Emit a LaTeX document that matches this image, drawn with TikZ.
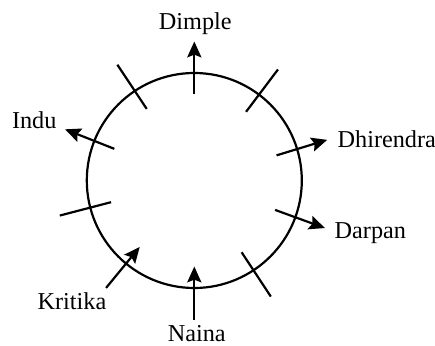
\documentclass[tikz,border=0pt]{standalone}
\usepackage{fontspec}
\setmainfont{Liberation Serif}
\usetikzlibrary{arrows.meta}

\begin{document}
\begin{tikzpicture}[x=0.02cm, y=0.02cm,
    seat/.style={line width=1.25pt},
    pointer/.style={seat, -{Stealth[length=9pt,width=8pt,inset=1.5pt]}},
    person/.style={font=\fontsize{13.8}{16}\selectfont, inner sep=0pt},
  ]
  \useasboundingbox (0,0) rectangle (435,345);
  \coordinate (c) at (194.3,164.5);
  \draw[seat] (c) circle[radius=107.5];
  % inner and outer end of every mark
  \foreach \s/\a in {dimple/90, tr/53, dhirendra/17, darpan/-20, br/-56.6,
      naina/-90, kritika/230.6, lf/194.6, indu/158.4, tl/123.6} {
    \coordinate (\s-in) at ([shift={(\a:86)}]c);
    \coordinate (\s-out) at ([shift={(\a:139)}]c);
  }
  \foreach \s in {tr, br, lf, tl}
    \draw[seat] (\s-in) -- (\s-out);
  \foreach \s in {dimple, dhirendra, darpan, indu}
    \draw[pointer] (\s-in) -- (\s-out);
  \foreach \s in {naina, kritika}
    \draw[pointer] (\s-out) -- (\s-in);

  \node[person, anchor=base] (dimple) at (195.3,315.7) {Dimple};
  \node[person, anchor=base west] (dhirendra) at (337.3,197.7) {Dhirendra};
  \node[person, anchor=base west] (darpan) at (334.3,106.7) {Darpan};
  \node[person, anchor=base] (naina) at (196.8,3.3) {Naina};
  \node[person, anchor=base west] (kritika) at (37.3,35.7) {Kritika};
  \node[person, anchor=base west] (indu) at (11.7,216.7) {Indu};
\end{tikzpicture}
\end{document}
